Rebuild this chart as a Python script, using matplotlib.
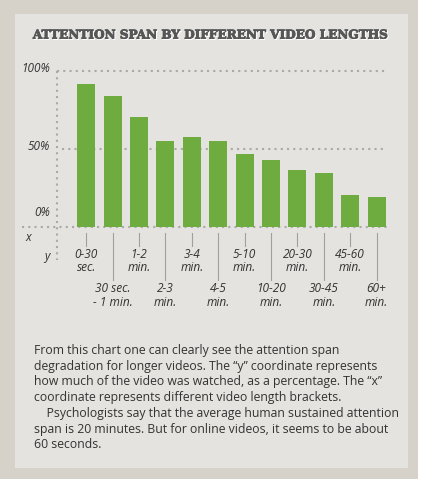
import matplotlib.pyplot as plt
import matplotlib.patheffects as pe
from matplotlib.patches import Rectangle

# data
brackets_top = ["0-30\nsec.", "1-2\nmin.", "3-4\nmin.", "5-10\nmin.", "20-30\nmin.", "45-60\nmin."]
brackets_bottom = ["30 sec.\n- 1 min.", "2-3\nmin.", "4-5\nmin.", "10-20\nmin.", "30-45\nmin.", "60+\nmin."]
watched = [91.6, 84.1, 70.3, 55.0, 57.4, 55.0, 46.5, 43.0, 36.6, 34.5, 20.4, 19.3]
ytick_vals = [100, 50, 0]
ytick_labels = ["100%", "50%", "0%"]
title = "ATTENTION SPAN BY DIFFERENT VIDEO LENGTHS"
body = ("From this chart one can clearly see the attention span\n"
        "degradation for longer videos. The \u201cy\u201d coordinate represents\n"
        "how much of the video was watched, as a percentage. The \u201cx\u201d\n"
        "coordinate represents different video length brackets.\n"
        "    Psychologists say that the average human sustained attention\n"
        "span is 20 minutes. But for online videos, it seems to be about\n"
        "60 seconds.")

W, H = 425, 484
GREEN = "#6eac40"
DOT = "#a9a9a9"
TXT = "#333333"

fig = plt.figure(figsize=(W / 100, H / 100), dpi=100)
fig.patch.set_facecolor("white")


def px(x, y):
    return x / W, 1 - y / H


# frame and panel
fig.patches.append(Rectangle(px(0, 479), 418 / W, 479 / H, transform=fig.transFigure,
                             facecolor="#d6d2ca", edgecolor="none", zorder=-2))
fig.patches.append(Rectangle(px(15, 468), 393 / W, 454 / H, transform=fig.transFigure,
                             facecolor="#e4e3df", edgecolor="none", zorder=-1))

# title with a light shadow, slightly thickened to look like the heavy slab face
tx, ty = px(211.5, 35)
fig.text(tx + 1 / W, ty - 1 / H, title, ha="center", va="center", fontsize=8.7,
         family="DejaVu Serif", weight="bold", color="white",
         path_effects=[pe.withStroke(linewidth=0.6, foreground="white")])
fig.text(tx, ty, title, ha="center", va="center", fontsize=8.7,
         family="DejaVu Serif", weight="bold", color="#565656",
         path_effects=[pe.withStroke(linewidth=0.6, foreground="#565656")])

# axes: x pixel 57.3 -> 387, y pixel 71 (100%) -> 226.7 (0%)
x0, x1 = 57.3, 387
y_top, y_base = 71, 226.7
ax = fig.add_axes([x0 / W, 1 - y_base / H, (x1 - x0) / W, (y_base - y_top) / H])
ax.set_facecolor("none")
step = 26.4
first = 86.2
ax.set_xlim((x0 - first) / step, (x1 - first) / step)
ax.set_ylim(0, 100)
ax.axis("off")

pos = list(range(len(watched)))
ax.bar(pos, watched, width=0.68, color=GREEN, zorder=2)

per_px = 100 / (y_base - y_top)
xl = (x0 - first) / step
xr = ax.get_xlim()[1]
dots = dict(color=DOT, linewidth=1.5, linestyle=(0, (1, 2)), clip_on=False, zorder=1)
ax.plot([xl, xr], [100, 100], **dots)
ax.plot([(62 - first) / step, xr], [50, 50], **dots)
ax.plot([(22 - first) / step, xr], [0, 0], **dots)
ax.plot([xl, xl], [100, -(260 - y_base) * per_px], **dots)

# y labels (drawn a little above their lines like the original)
label_y = {100: 69, 50: 147, 0: 212.7}
for v, lab in zip(ytick_vals, ytick_labels):
    ax.text((50 - first) / step, (y_base - label_y[v]) * per_px, lab, ha="right",
            va="center", fontsize=8.5, style="italic", family="Open Sans",
            color=TXT, clip_on=False)

ax.text((25 - first) / step, -(237.7 - y_base) * per_px, "x", ha="left", va="center",
        fontsize=8.5, style="italic", family="Open Sans", color=TXT)
ax.text((46.7 - first) / step, -(256.5 - y_base) * per_px, "y", ha="center", va="center",
        fontsize=8.5, style="italic", family="Open Sans", color=TXT)

# category ticks and labels, alternating short / long
tick_top = -(232.7 - y_base) * per_px
for i, lab in enumerate(brackets_top):
    p = 2 * i
    ax.plot([p, p], [tick_top, -(245.7 - y_base) * per_px], color="#a0a0a0",
            linewidth=0.8, clip_on=False)
    ax.text(p, -(261 - y_base) * per_px, lab, ha="center", va="center", fontsize=8.6,
            style="italic", family="Open Sans", color=TXT, linespacing=1.0)
for i, lab in enumerate(brackets_bottom):
    p = 2 * i + 1
    ax.plot([p, p], [tick_top, -(280 - y_base) * per_px], color="#a0a0a0",
            linewidth=0.8, clip_on=False)
    ax.text(p, -(295.5 - y_base) * per_px, lab, ha="center", va="center", fontsize=8.6,
            style="italic", family="Open Sans", color=TXT, linespacing=1.0)

# description text
bx, by = px(34, 344)
fig.text(bx, by, body, ha="left", va="top", fontsize=8.8, family="Open Sans",
         color=TXT, linespacing=1.27)

fig.savefig("out.png", dpi=100, facecolor=fig.get_facecolor())
